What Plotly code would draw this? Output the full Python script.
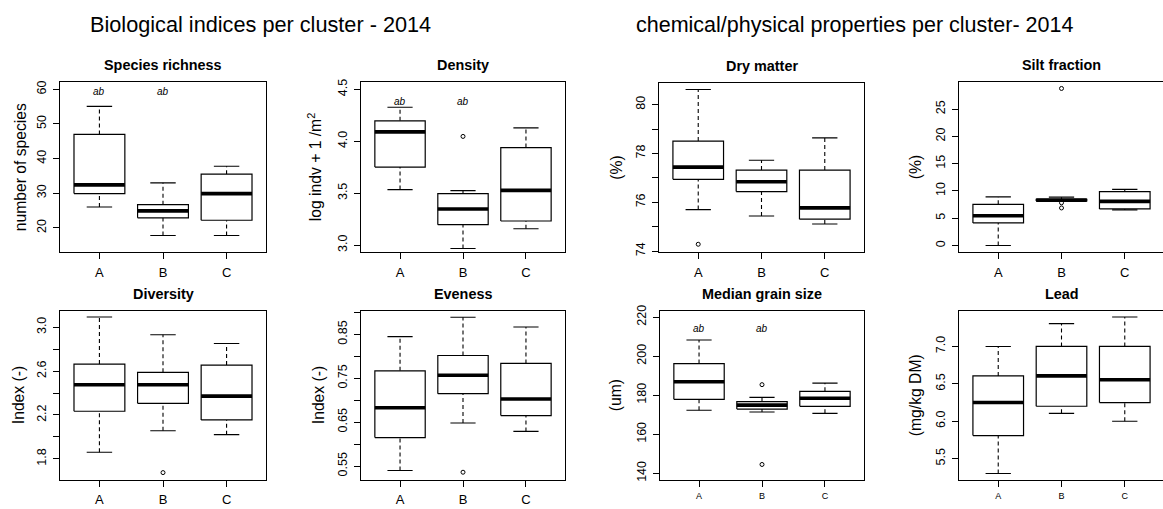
import plotly.graph_objects as go

clusters = ["A", "B", "C"]

# five-number summaries per cluster: [lower whisker, Q1, median, Q3, upper whisker]
species_richness = [[26.0, 29.9, 32.4, 47.0, 55.1],
                    [17.8, 22.9, 24.9, 26.7, 33.0],
                    [17.8, 22.2, 29.9, 35.5, 37.8]]
species_richness_out = [[], [], []]

density = [[3.535, 3.752, 4.091, 4.197, 4.327],
           [2.969, 3.198, 3.349, 3.497, 3.525],
           [3.158, 3.233, 3.528, 3.940, 4.129]]
density_out = [[], [4.047], []]

diversity = [[1.860, 2.234, 2.476, 2.664, 3.093],
             [2.056, 2.306, 2.476, 2.589, 2.932],
             [2.021, 2.155, 2.372, 2.655, 2.852]]
diversity_out = [[], [1.675], []]

evenness = [[0.540, 0.615, 0.683, 0.767, 0.845],
            [0.648, 0.715, 0.757, 0.802, 0.889],
            [0.629, 0.665, 0.703, 0.784, 0.867]]
evenness_out = [[], [0.536], []]

dry_matter = [[75.70, 76.94, 77.44, 78.51, 80.62],
              [75.44, 76.44, 76.84, 77.32, 77.72],
              [75.11, 75.31, 75.77, 77.32, 78.64]]
dry_matter_out = [[74.28], [], []]

silt_fraction = [[0.00, 4.14, 5.45, 7.55, 8.92],
                 [8.10, 8.17, 8.33, 8.48, 8.87],
                 [6.53, 6.71, 8.09, 9.89, 10.30]]
silt_fraction_out = [[], [28.8, 7.84, 6.89], []]

grain_size = [[172.3, 177.9, 186.9, 196.2, 208.3],
              [171.4, 172.9, 174.9, 176.7, 178.9],
              [170.7, 174.3, 178.4, 182.0, 186.2]]
grain_size_out = [[], [185.4, 144.5], []]

lead = [[5.300, 5.808, 6.250, 6.606, 7.000],
        [6.105, 6.200, 6.606, 7.000, 7.306],
        [6.000, 6.250, 6.554, 7.000, 7.394]]
lead_out = [[], [], []]

sig_letters = ["ab", "ab", ""]

FONT = "Liberation Sans, Arial, sans-serif"
W, H = 1163, 509

panels = [
    dict(title="Species richness", ylab="number of species", data=species_richness, out=species_richness_out,
         yr=[13.0, 62.0], tv=[20, 30, 40, 50, 60], tt=["20", "30", "40", "50", "60"],
         letters_y=59.4, px=(60, 266), py=(78, 251), xfs=13, yshift=-40),
    dict(title="Density", ylab="log indv + 1 /m<sup>2</sup>", data=density, out=density_out,
         yr=[2.934, 4.566], tv=[3.0, 3.5, 4.0, 4.5], tt=["3.0", "3.5", "4.0", "4.5"],
         letters_y=4.387, px=(361, 565), py=(78, 251), xfs=13, yshift=-46),
    dict(title="Dry matter", ylab="(%)", data=dry_matter, out=dry_matter_out,
         yr=[73.96, 80.87], tv=[74, 75, 76, 77, 78, 79, 80], tt=["74", " ", "76", " ", "78", " ", "80"],
         letters_y=None, px=(659, 864), py=(79, 251), xfs=13, yshift=-42),
    dict(title="Silt fraction", ylab="(%)", data=silt_fraction, out=silt_fraction_out,
         yr=[-1.2, 29.9], tv=[0, 5, 10, 15, 20, 25], tt=["0", "5", "10", "15", "20", "25"],
         letters_y=None, px=(959, 1164), py=(78, 251), xfs=13, yshift=-44),
    dict(title="Diversity", ylab="Index (-)", data=diversity, out=diversity_out,
         yr=[1.612, 3.149], tv=[1.8, 2.0, 2.2, 2.4, 2.6, 2.8, 3.0],
         tt=["1.8", " ", "2.2", " ", "2.6", " ", "3.0"],
         letters_y=None, px=(60, 266), py=(311, 483), xfs=13, yshift=-42),
    dict(title="Eveness", ylab="Index (-)", data=evenness, out=evenness_out,
         yr=[0.5194, 0.9036], tv=[0.55, 0.60, 0.65, 0.70, 0.75, 0.80, 0.85, 0.90],
         tt=["0.55", " ", "0.65", " ", "0.75", " ", "0.85", " "],
         letters_y=None, px=(361, 565), py=(311, 483), xfs=13, yshift=-43),
    dict(title="Median grain size", ylab="(um)", data=grain_size, out=grain_size_out,
         yr=[136.8, 223.2], tv=[140, 160, 180, 200, 220], tt=["140", "160", "180", "200", "220"],
         letters_y=214.0, px=(660, 864), py=(311, 483), xfs=9, yshift=-45),
    dict(title="Lead", ylab="(mg/kg DM)", data=lead, out=lead_out,
         yr=[5.22, 7.476], tv=[5.5, 6.0, 6.5, 7.0], tt=["5.5", "6.0", "6.5", "7.0"],
         letters_y=None, px=(959, 1164), py=(311, 483), xfs=9, yshift=-44),
]

fig = go.Figure()
annotations = []
XR = [0.38, 3.62]
half_box = 0.4
half_cap = 0.2

for k, p in enumerate(panels):
    n = k + 1
    xa = "x" if n == 1 else f"x{n}"
    ya = "y" if n == 1 else f"y{n}"
    xkey = "xaxis" if n == 1 else f"xaxis{n}"
    ykey = "yaxis" if n == 1 else f"yaxis{n}"

    x0p, x1p = p["px"]
    clipped = x1p > W
    x1c = min(x1p, W)
    xr = [XR[0], XR[0] + (XR[1] - XR[0]) * (x1c - x0p) / (x1p - x0p)]
    xdom = [x0p / W, x1c / W]
    ydom = [1 - p["py"][1] / H, 1 - p["py"][0] / H]

    bx, by, mx, my, wx, wy, cx, cy, ox, oy = [], [], [], [], [], [], [], [], [], []
    for i, stats in enumerate(p["data"]):
        lo, q1, med, q3, hi = stats
        c = i + 1
        bx += [c - half_box, c + half_box, c + half_box, c - half_box, c - half_box, None]
        by += [q1, q1, q3, q3, q1, None]
        mx += [c - half_box, c + half_box, None]
        my += [med, med, None]
        wx += [c, c, None, c, c, None]
        wy += [lo, q1, None, q3, hi, None]
        cx += [c - half_cap, c + half_cap, None, c - half_cap, c + half_cap, None]
        cy += [lo, lo, None, hi, hi, None]
        for v in p["out"][i]:
            ox.append(c)
            oy.append(v)

    common = dict(xaxis=xa, yaxis=ya, showlegend=False, hoverinfo="skip")
    fig.add_trace(go.Scatter(x=wx, y=wy, mode="lines",
                             line=dict(color="black", width=1.1, dash="4px,3px"), **common))
    fig.add_trace(go.Scatter(x=cx, y=cy, mode="lines",
                             line=dict(color="black", width=1.1), **common))
    fig.add_trace(go.Scatter(x=bx, y=by, mode="lines", fill="toself", fillcolor="white",
                             line=dict(color="black", width=1.2), **common))
    fig.add_trace(go.Scatter(x=mx, y=my, mode="lines",
                             line=dict(color="black", width=3.6), **common))
    if ox:
        fig.add_trace(go.Scatter(x=ox, y=oy, mode="markers",
                                 marker=dict(symbol="circle-open", size=4, color="black",
                                             line=dict(width=1, color="black")), **common))

    fig.layout[xkey] = dict(domain=xdom, range=xr, anchor=ya, tickvals=[1, 2, 3], ticktext=clusters,
                            ticks="outside", ticklen=6, tickcolor="black", showline=True,
                            mirror=True, linecolor="black", linewidth=1, showgrid=False,
                            zeroline=False, ticklabelstandoff=2,
                            tickfont=dict(size=p["xfs"], color="black", family=FONT))
    fig.layout[ykey] = dict(domain=ydom, range=p["yr"], anchor=xa, tickvals=p["tv"], ticktext=p["tt"],
                            ticks="outside", ticklen=6, tickcolor="black", showline=True,
                            mirror=(not clipped), linecolor="black", linewidth=1, showgrid=False,
                            zeroline=False, tickangle=-90, ticklabelstandoff=2,
                            tickfont=dict(size=12.5, color="black", family=FONT))

    annotations.append(dict(text=f"<b>{p['title']}</b>", xref=f"{xa} domain", yref=f"{ya} domain",
                            x=0.5 if not clipped else 0.5 * (x1p - x0p) / (x1c - x0p), y=1,
                            yshift=17, showarrow=False, xanchor="center", yanchor="middle",
                            font=dict(size=14.4, color="black", family=FONT)))
    annotations.append(dict(text=p["ylab"], xref=f"{xa} domain", yref=f"{ya} domain",
                            x=0, y=0.5, xshift=p["yshift"], textangle=-90, showarrow=False,
                            xanchor="center", yanchor="middle",
                            font=dict(size=15.7, color="black", family=FONT)))
    if p["letters_y"] is not None:
        for i, lt in enumerate(sig_letters):
            if lt:
                annotations.append(dict(text=f"<i>{lt}</i>", xref=xa, yref=ya, x=i + 1,
                                        y=p["letters_y"], showarrow=False,
                                        font=dict(size=10, color="black", family=FONT)))

annotations.append(dict(text="Biological indices per cluster - 2014", xref="paper", yref="paper",
                        x=260 / W, y=1 - 19 / H, showarrow=False, xanchor="center", yanchor="middle",
                        font=dict(size=21.7, color="black", family=FONT)))
annotations.append(dict(text="chemical/physical properties per cluster- 2014", xref="paper", yref="paper",
                        x=854 / W, y=1 - 19 / H, showarrow=False, xanchor="center", yanchor="middle",
                        font=dict(size=21.5, color="black", family=FONT)))

fig.update_layout(width=W, height=H, margin=dict(l=0, r=0, t=0, b=0),
                  paper_bgcolor="white", plot_bgcolor="white",
                  annotations=annotations, font=dict(family=FONT, color="black"))

fig.write_html("out.html", config={"displayModeBar": False})
